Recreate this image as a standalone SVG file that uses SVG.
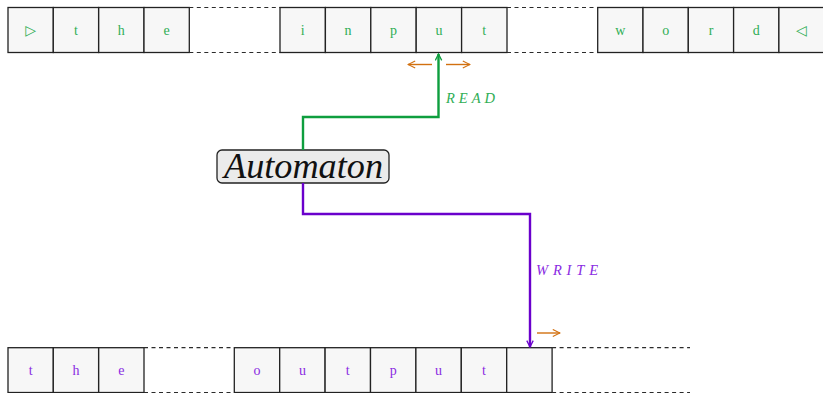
<svg xmlns="http://www.w3.org/2000/svg" width="823" height="393" viewBox="0 0 823 393">
  <defs>
    <style>
      .cell { fill: #f7f7f7; stroke: #222; stroke-width: 1.3; }
      .dash { stroke: #2b2b2b; stroke-width: 1.2; stroke-dasharray: 4 3.5; fill: none; }
      .sym { font-family: "Liberation Serif", "DejaVu Serif", serif; font-size: 14px; text-anchor: middle; }
      .in { fill: #2fae55; }
      .out { fill: #8a2be2; }
      .lbl { font-family: "Liberation Serif", "DejaVu Serif", serif; font-style: italic; font-size: 14.5px; }
      .move { stroke: #d2700f; stroke-width: 1.4; fill: none; }
    </style>
    <marker id="headG" viewBox="0 0 10 10" refX="9" refY="5" markerWidth="8" markerHeight="8" markerUnits="userSpaceOnUse" orient="auto">
      <path d="M1,1 L9,5 L1,9" fill="none" stroke="#0e9e3e" stroke-width="1.6"/>
    </marker>
    <marker id="headP" viewBox="0 0 10 10" refX="9" refY="5" markerWidth="8" markerHeight="8" markerUnits="userSpaceOnUse" orient="auto">
      <path d="M1,1 L9,5 L1,9" fill="none" stroke="#6a00cc" stroke-width="1.6"/>
    </marker>
    <marker id="headO" viewBox="0 0 10 10" refX="9" refY="5" markerWidth="9" markerHeight="9" markerUnits="userSpaceOnUse" orient="auto">
      <path d="M1,1 L9,5 L1,9" fill="none" stroke="#d2700f" stroke-width="1.2"/>
    </marker>
  </defs>

  <!-- input tape -->
  <g id="input-tape">
    <rect class="cell" x="8" y="7.5" width="45.3" height="45"/>
    <rect class="cell" x="53.3" y="7.5" width="45.3" height="45"/>
    <rect class="cell" x="98.7" y="7.5" width="45.3" height="45"/>
    <rect class="cell" x="144" y="7.5" width="45.3" height="45"/>
    <line class="dash" x1="189.3" y1="7.5" x2="280" y2="7.5"/>
    <line class="dash" x1="189.3" y1="52.5" x2="280" y2="52.5"/>
    <rect class="cell" x="280" y="7.5" width="45.4" height="45"/>
    <rect class="cell" x="325.4" y="7.5" width="45.4" height="45"/>
    <rect class="cell" x="370.8" y="7.5" width="45.4" height="45"/>
    <rect class="cell" x="416.2" y="7.5" width="45.4" height="45"/>
    <rect class="cell" x="461.6" y="7.5" width="45.4" height="45"/>
    <line class="dash" x1="507" y1="7.5" x2="597.7" y2="7.5"/>
    <line class="dash" x1="507" y1="52.5" x2="597.7" y2="52.5"/>
    <rect class="cell" x="597.7" y="7.5" width="45.3" height="45"/>
    <rect class="cell" x="643" y="7.5" width="45.3" height="45"/>
    <rect class="cell" x="688.3" y="7.5" width="45.3" height="45"/>
    <rect class="cell" x="733.6" y="7.5" width="45.3" height="45"/>
    <rect class="cell" x="778.9" y="7.5" width="45.3" height="45"/>
    <g class="sym in">
      <text x="30.7" y="34.5">▷</text>
      <text x="76" y="34.5">t</text>
      <text x="121.3" y="34.5">h</text>
      <text x="166.7" y="34.5">e</text>
      <text x="302.7" y="34.5">i</text>
      <text x="348.1" y="34.5">n</text>
      <text x="393.5" y="34.5">p</text>
      <text x="438.9" y="34.5">u</text>
      <text x="484.3" y="34.5">t</text>
      <text x="620.4" y="34.5">w</text>
      <text x="665.7" y="34.5">o</text>
      <text x="711" y="34.5">r</text>
      <text x="756.3" y="34.5">d</text>
      <text x="801.5" y="34.5">◁</text>
    </g>
  </g>

  <!-- output tape -->
  <g id="output-tape">
    <rect class="cell" x="8" y="347.7" width="45.3" height="44.8"/>
    <rect class="cell" x="53.3" y="347.7" width="45.3" height="44.8"/>
    <rect class="cell" x="98.7" y="347.7" width="45.3" height="44.8"/>
    <line class="dash" x1="144" y1="347.7" x2="234.3" y2="347.7"/>
    <line class="dash" x1="144" y1="392.5" x2="234.3" y2="392.5"/>
    <rect class="cell" x="234.3" y="347.7" width="45.4" height="44.8"/>
    <rect class="cell" x="279.7" y="347.7" width="45.4" height="44.8"/>
    <rect class="cell" x="325.1" y="347.7" width="45.4" height="44.8"/>
    <rect class="cell" x="370.5" y="347.7" width="45.4" height="44.8"/>
    <rect class="cell" x="415.9" y="347.7" width="45.4" height="44.8"/>
    <rect class="cell" x="461.3" y="347.7" width="45.4" height="44.8"/>
    <rect class="cell" x="506.7" y="347.7" width="45.4" height="44.8"/>
    <line class="dash" x1="552.1" y1="347.7" x2="690" y2="347.7"/>
    <line class="dash" x1="552.1" y1="392.5" x2="690" y2="392.5"/>
    <g class="sym out">
      <text x="30.7" y="374.5">t</text>
      <text x="76" y="374.5">h</text>
      <text x="121.3" y="374.5">e</text>
      <text x="257" y="374.5">o</text>
      <text x="302.4" y="374.5">u</text>
      <text x="347.8" y="374.5">t</text>
      <text x="393.2" y="374.5">p</text>
      <text x="438.6" y="374.5">u</text>
      <text x="484" y="374.5">t</text>
    </g>
  </g>

  <!-- automaton -->
  <g id="automaton">
    <rect x="217" y="150" width="172" height="33" rx="5" ry="5" fill="#ebebeb" stroke="#222" stroke-width="1.3"/>
    <text x="224" y="178" font-family="Liberation Serif, DejaVu Serif, serif" font-style="italic" font-size="35" fill="#111" textLength="159" lengthAdjust="spacingAndGlyphs">Automaton</text>
  </g>

  <!-- connectors -->
  <g id="connectors">
    <path d="M303,150 V117 H438.5 V54" fill="none" stroke="#0e9e3e" stroke-width="2.4" marker-end="url(#headG)"/>
    <text class="lbl" x="446" y="103" fill="#2fae55" textLength="49" lengthAdjust="spacing">READ</text>
    <path d="M303,183 V214 H530 V347" fill="none" stroke="#6a00cc" stroke-width="2.4" marker-end="url(#headP)"/>
    <text class="lbl" x="536" y="275" fill="#8a2be2" textLength="62" lengthAdjust="spacing">WRITE</text>
    <line class="move" x1="432" y1="64.5" x2="408" y2="64.5" marker-end="url(#headO)"/>
    <line class="move" x1="446" y1="64.5" x2="470" y2="64.5" marker-end="url(#headO)"/>
    <line class="move" x1="537" y1="333" x2="560" y2="333" marker-end="url(#headO)"/>
  </g>
</svg>
